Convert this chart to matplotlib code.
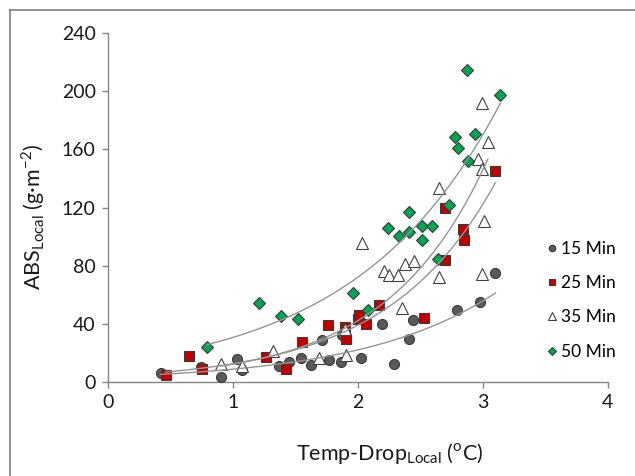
import numpy as np
import matplotlib
matplotlib.use("Agg")
import matplotlib.pyplot as plt
from matplotlib.lines import Line2D

plt.rcParams['font.family'] = ['Lato', 'DejaVu Sans']
plt.rcParams['mathtext.fontset'] = 'custom'
plt.rcParams['mathtext.rm'] = 'Lato'

# ---- data ----
x15 = [0.42, 0.74, 0.90, 1.03, 1.07, 1.37, 1.45, 1.54, 1.62, 1.71, 1.77, 1.86, 1.87, 2.02, 2.19, 2.29, 2.41, 2.44, 2.79, 2.98, 3.10]
y15 = [5.7, 10.0, 3.4, 15.4, 8.0, 11.0, 13.7, 16.0, 11.4, 29.0, 14.9, 13.3, 32.0, 16.4, 40.0, 12.1, 29.2, 42.3, 49.6, 54.6, 74.7]

x25 = [0.46, 0.65, 0.75, 1.26, 1.42, 1.555, 1.76, 1.894, 1.907, 2.00, 2.006, 2.06, 2.17, 2.53, 2.70, 2.70, 2.84, 2.85, 3.10]
y25 = [4.6, 17.8, 8.6, 17.1, 8.7, 27.4, 38.8, 37.7, 29.7, 43.4, 46.2, 39.5, 52.7, 43.8, 120.0, 83.8, 105.0, 97.6, 145.4]

x35 = [0.90, 1.067, 1.32, 1.69, 1.894, 1.907, 2.03, 2.21, 2.25, 2.32, 2.35, 2.38, 2.45, 2.65, 2.65, 2.96, 2.99, 2.99, 3.04, 3.01, 2.99]
y35 = [12.1, 10.8, 21.2, 16.6, 36.6, 18.3, 95.8, 76.0, 73.8, 73.8, 51.0, 81.2, 83.4, 133.2, 71.8, 153.5, 146.5, 191.8, 164.8, 110.8, 74.2]

x50 = [0.79, 1.21, 1.38, 1.52, 1.96, 2.08, 2.24, 2.33, 2.41, 2.41, 2.51, 2.51, 2.59, 2.64, 2.73, 2.78, 2.80, 2.88, 2.875, 2.94, 3.14]
y50 = [23.7, 54.0, 45.1, 43.5, 60.9, 49.4, 105.9, 100.2, 116.8, 103.0, 107.0, 97.4, 107.3, 84.7, 121.8, 168.6, 161.0, 152.3, 215.0, 170.5, 197.5]

labels = ['15 Min', '25 Min', '35 Min', '50 Min']
xticks = [0, 1, 2, 3, 4]
yticks = [0, 40, 80, 120, 160, 200, 240]

series = [
    (x15, y15, 'o', '#595959', '#3a3a3a', 7.2),
    (x25, y25, 's', '#c00000', '#3a3a3a', 7.0),
    (x35, y35, '^', 'white', '#404040', 8.6),
    (x50, y50, 'D', '#00a651', '#3a3a3a', 6.3),
]

fig = plt.figure(figsize=(6.35, 4.76), dpi=100)
ax = fig.add_axes([0.1706, 0.1981, 0.957 - 0.1706, 0.930 - 0.1981])

handles = []
for (xs, ys, m, fc, ec, ms), lab in zip(series, labels):
    xs = np.asarray(xs); ys = np.asarray(ys)
    h, = ax.plot(xs, ys, linestyle='none', marker=m, markersize=ms,
                 markerfacecolor=fc, markeredgecolor=ec, markeredgewidth=0.8,
                 label=lab, zorder=3)
    handles.append(h)
    # exponential trendline (least squares on log y)
    b, lna = np.polyfit(xs, np.log(ys), 1)
    xx = np.linspace(xs.min(), xs.max(), 200)
    ax.plot(xx, np.exp(lna) * np.exp(b * xx), color='#959595', lw=1.0, zorder=4)

ax.set_xlim(0, 4)
ax.set_ylim(0, 240)
ax.set_xticks(xticks)
ax.set_yticks(yticks)
for s in ['top', 'right']:
    ax.spines[s].set_visible(False)
for s in ['left', 'bottom']:
    ax.spines[s].set_color('#868686')
    ax.spines[s].set_linewidth(1.0)
ax.tick_params(direction='out', length=4, width=1.0, color='#868686',
               labelsize=14, labelcolor='#1a1a1a', pad=5)

ax.set_xlabel(r'Temp-Drop$_{\mathregular{Local}}$ ($^{\mathregular{o}}$C)',
              fontsize=15.5, color='#1a1a1a')
ax.xaxis.set_label_coords(0.564, -0.170)
ax.set_ylabel('ABS$_{\\mathregular{Local}}$ (g\u00b7m$^{\\mathregular{-2}}$)',
              fontsize=15.5, color='#1a1a1a')
ax.yaxis.set_label_coords(-0.123, 0.473)

leg = fig.legend(handles=handles, labels=labels, loc='center left',
                 bbox_to_anchor=(0.848, 0.369), frameon=False, fontsize=12.5,
                 markerscale=0.65, handlelength=0.6, handletextpad=0.2,
                 labelspacing=1.05, borderpad=0)

# figure frame (left and top edges)
fig.add_artist(Line2D([10 / 635, 10 / 635], [0, 1 - 10 / 476], transform=fig.transFigure,
                      color='#7f7f7f', lw=1.2))
fig.add_artist(Line2D([10 / 635, 1], [1 - 10 / 476, 1 - 10 / 476], transform=fig.transFigure,
                      color='#7f7f7f', lw=1.2))

fig.savefig('out.png', dpi=100)
